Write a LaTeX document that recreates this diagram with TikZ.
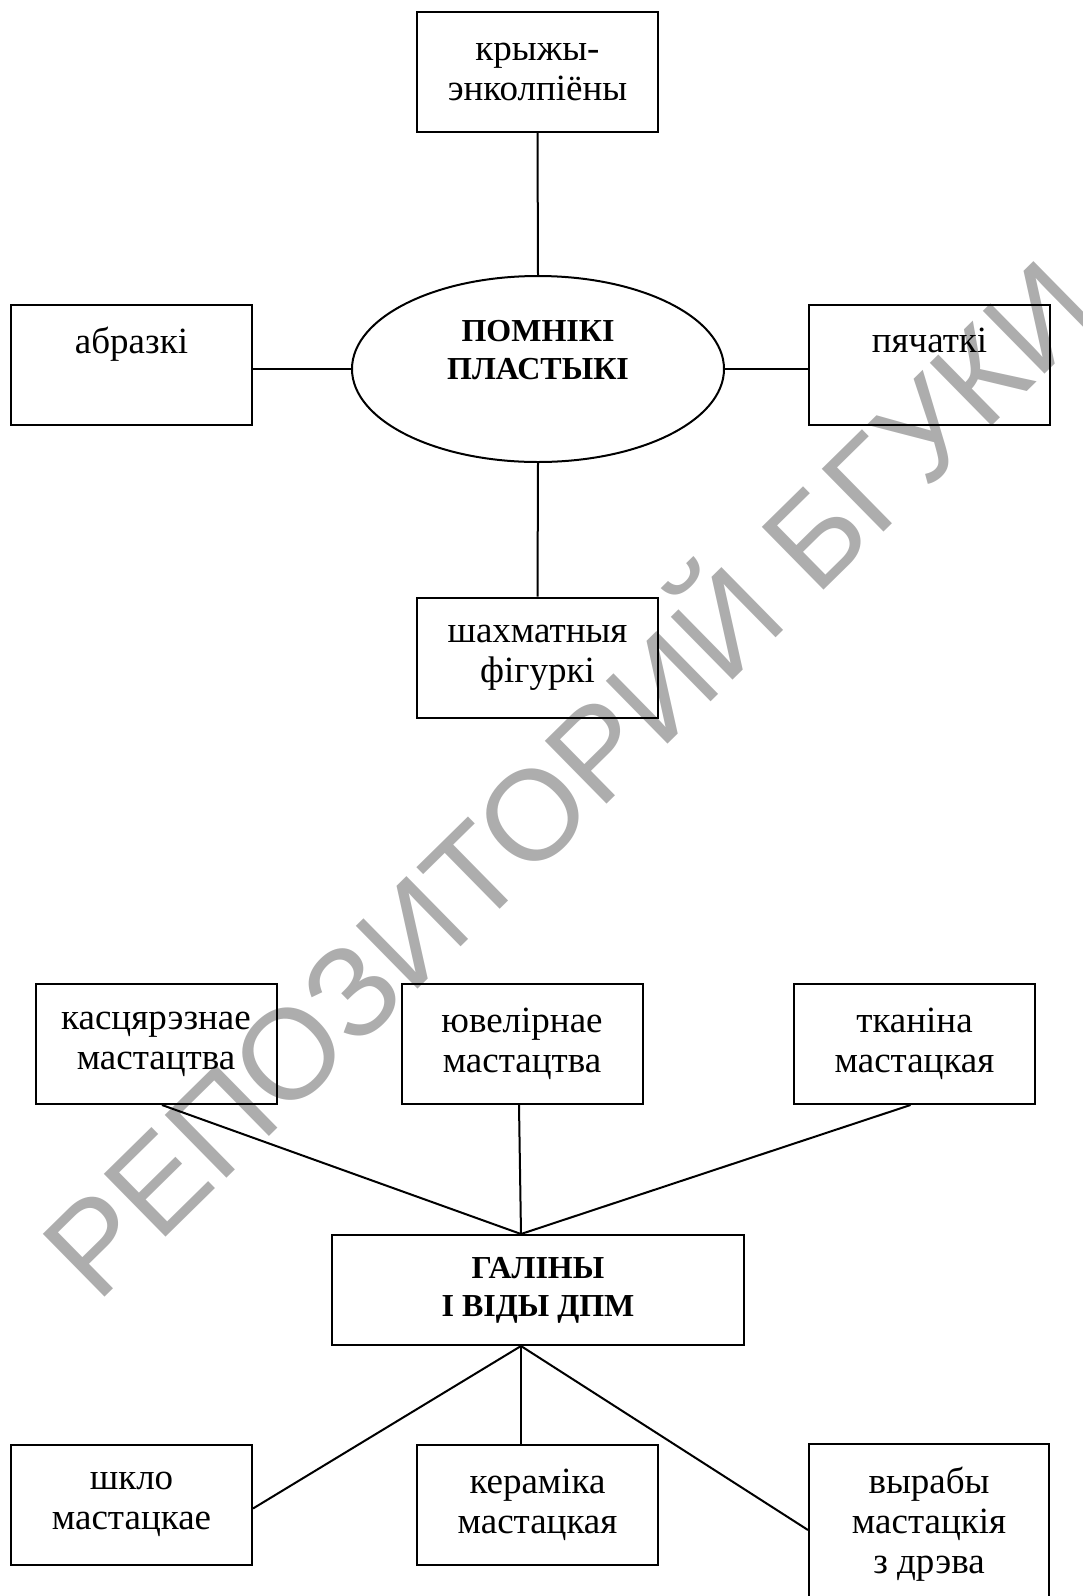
\documentclass[tikz,border=0pt]{standalone}
\usepackage{fontspec}
\setmainfont{Liberation Serif}
\newfontfamily\wmfamily{Liberation Sans}
\usetikzlibrary{shapes.geometric,calc}
\definecolor{wmgray}{RGB}{173,173,173}
\newcommand\myreg{\fontsize{37}{40}\selectfont}
\newcommand\mybold{\fontsize{32}{38}\selectfont\bfseries}
\begin{document}
\begin{tikzpicture}[x=1pt,y=-1pt,
  bx/.style={draw,line width=2pt,rectangle,minimum width=241pt,minimum height=120pt,inner sep=0pt,align=center,font=\myreg},
  ellbox/.style={draw,line width=2pt,ellipse,minimum width=372pt,minimum height=186pt,inner sep=0pt,align=center,font=\mybold},
  conn/.style={line width=2pt}]
\useasboundingbox (0,0) rectangle (1083,1596);
% watermark
\node[rotate=44.5,text=wmgray,font=\wmfamily\fontsize{128}{128}\selectfont] (wm) at (560,770) {РЕПОЗИТОРИЙ БГУКИ};
% upper diagram
\node[bx] (kryz) at (537.5,72) {крыжы-\\энколпіёны};
\node[ellbox] (pom) at (538,369) {ПОМНІКІ\\ПЛАСТЫКІ\\~};
\node[bx] (abr) at (131.5,365) {абразкі\\[10pt]~};
\node[bx] (pyach) at (929.5,365) {пячаткі\\[10pt]~};
\node[bx] (shakh) at (537.5,657.5) {шахматныя\\фігуркі};
\draw[conn] (kryz.south) -- (pom.north);
\draw[conn] (pom.west) -- (pom.west -| abr.east);
\draw[conn] (pom.east) -- (pom.east -| pyach.west);
\draw[conn] (pom.south) -- (shakh.north);
% lower diagram
\node[bx] (kas) at (156,1044) {касцярэзнае\\мастацтва};
\node[bx] (yuv) at (522,1044) {ювелірнае\\мастацтва};
\node[bx] (tkan) at (914.5,1044) {тканіна\\мастацкая};
\node[bx,minimum width=412pt,minimum height=110pt,font=\mybold] (gal) at (538,1290) {ГАЛІНЫ\\І ВІДЫ ДПМ};
\node[bx] (shkl) at (131.5,1504.5) {шкло\\мастацкае};
\node[bx] (ker) at (537.5,1504.5) {кераміка\\мастацкая};
\node[bx,minimum width=240pt,minimum height=160pt] (vyr) at (929,1524) {вырабы\\мастацкія\\з дрэва};
\coordinate (gtop) at ([xshift=-17pt]gal.north);
\coordinate (gbot) at ([xshift=-17pt]gal.south);
\draw[conn] ([xshift=6pt]kas.south) -- (gtop);
\draw[conn] ([xshift=-3pt]yuv.south) -- (gtop);
\draw[conn] ([xshift=-4pt]tkan.south) -- (gtop);
\draw[conn] (gbot) -- ([yshift=-4pt]shkl.east);
\draw[conn] (gbot) -- (gbot |- ker.north);
\draw[conn] (gbot) -- ([yshift=-6pt]vyr.west);
\end{tikzpicture}
\end{document}
